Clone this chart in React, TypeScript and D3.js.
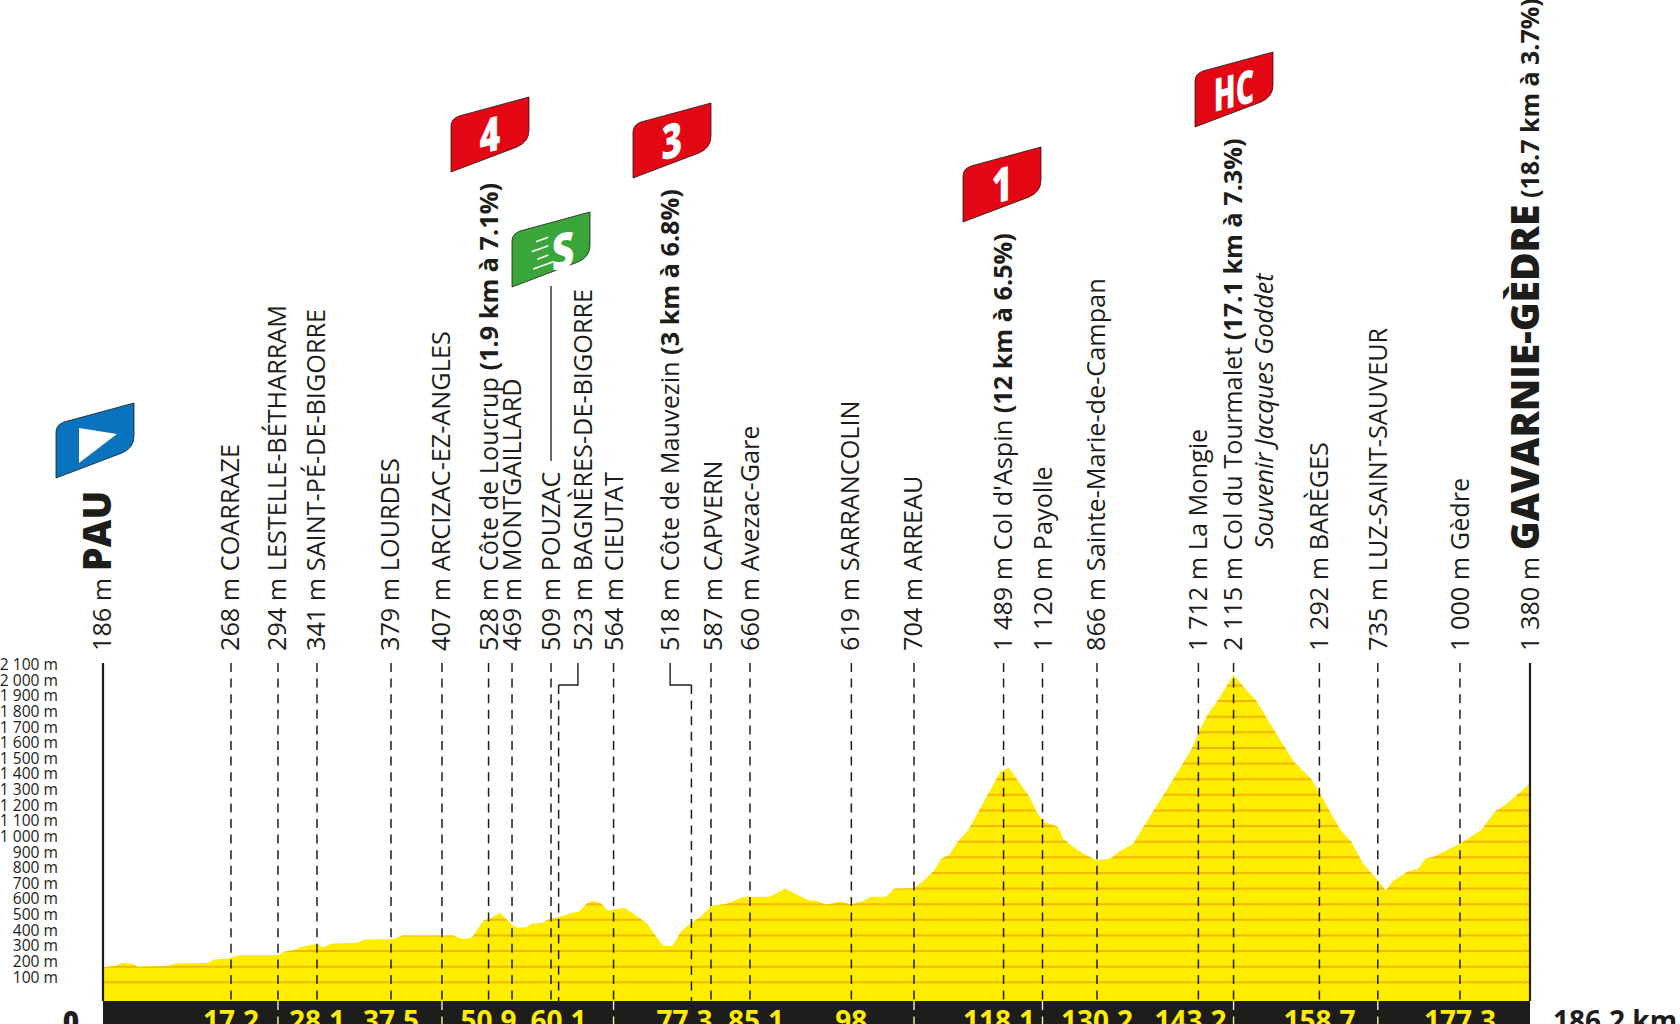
import React from 'react';
import * as d3 from 'd3';

const PROFILE_KM = [0,1.5,2.6,3.8,4.5,8.5,9.4,13.6,14.5,16.4,17.8,22.9,23.6,25,25.7,27.8,28.7,29.9,33.2,34.1,38,39,45.7,46.9,48.1,49.7,50.3,51.8,53.4,54.1,55.3,55.8,57.4,57.9,59.4,61.2,62.1,63.1,64,65,65.9,66.6,68,69.2,71,71.9,73.1,74.3,75.4,76.6,78,79.4,81.3,83.6,86.9,89,92,93.1,94.3,95.2,96.2,97.6,99.2,100.3,102.2,103.2,105.8,106.9,108.3,109.4,110.4,111.5,112.9,114.1,115.3,117.1,118.2,119.2,120.9,121.8,122.7,124.6,125.3,126.9,128.3,129.7,131.5,132.5,134.4,135.9,137.1,138.5,139.7,140.9,142.2,142.9,144.1,145.5,147.5,149.2,150.6,152.8,155.4,157.6,158.7,160,161.5,162.9,164.4,166.3,167.4,168.2,170.2,171.6,172.6,173.6,177.1,179.8,181.7,183.2,186.2];
const PROFILE_M = [196,204,226,220,200,204,221,226,247,253,275,275,296,307,324,345,324,349,354,375,377,400,400,377,386,499,503,546,467,450,452,473,482,499,516,546,552,605,622,605,558,567,578,541,477,413,332,332,424,477,520,590,601,648,648,699,627,620,599,605,618,599,622,648,648,699,703,744,808,893,914,1000,1074,1181,1288,1447,1473,1405,1288,1192,1128,1096,1017,957,914,882,893,936,985,1106,1202,1309,1405,1501,1608,1693,1810,1906,2066,1970,1895,1714,1511,1405,1319,1202,1074,1000,861,755,686,744,808,829,893,904,989,1074,1196,1245,1373];

const ELEV_TICKS = d3.range(100, 2101, 100);
const ELEV_LABELS = ['100 m','200 m','300 m','400 m','500 m','600 m','700 m','800 m','900 m','1 000 m','1 100 m','1 200 m','1 300 m','1 400 m','1 500 m','1 600 m','1 700 m','1 800 m','1 900 m','2 000 m','2 100 m'];

const STOP_KM = [16.7,22.83,27.92,37.58,44.23,50.31,53.37,58.46,59.45,66.62,76.78,79.33,84.42,97.65,105.82,117.51,122.59,129.7,142.93,147.52,158.72,166.34,177.06];
const BAND_TICK_KM = [22.83,44.23,66.62,105.82,122.59,147.52,166.34];
const KM_LABELS = ['17.2','28.1','37.5','50.9','60.1','77.3','85.1','98','118.1','130.2','143.2','158.7','177.3'];
const KM_LABEL_POS = [16.7,27.92,37.58,50.31,59.45,75.89,85.2,97.65,116.9,129.7,141.9,158.72,177.06];

const PLACES_ALT = ['268 m','294 m','341 m','379 m','407 m','528 m','469 m','509 m','523 m','564 m','518 m','587 m','660 m','619 m','704 m','1 489 m','1 120 m','866 m','1 712 m','2 115 m','1 292 m','735 m','1 000 m'];
const PLACES_NAME = ['COARRAZE','LESTELLE-BÉTHARRAM','SAINT-PÉ-DE-BIGORRE','LOURDES','ARCIZAC-EZ-ANGLES','Côte de Loucrup','MONTGAILLARD','POUZAC','BAGNÈRES-DE-BIGORRE','CIEUTAT','Côte de Mauvezin','CAPVERN','Avezac-Gare','SARRANCOLIN','ARREAU',"Col d'Aspin",'Payolle','Sainte-Marie-de-Campan','La Mongie','Col du Tourmalet','BARÈGES','LUZ-SAINT-SAUVEUR','Gèdre'];
const PLACES_CLIMB = ['','','','','','(1.9 km à 7.1%)','','','','','(3 km à 6.8%)','','','','','(12 km à 6.5%)','','','','(17.1 km à 7.3%)','','',''];
const PLACES_KM = [16.6,22.7,27.75,37.45,44.13,50.31,53.37,58.4,62.65,66.62,74.0,79.6,84.42,97.5,105.7,117.4,122.59,129.6,142.93,147.4,158.72,166.34,177.06];

const FLAG_KINDS = ['start','4','sprint','3','1','HC'];
const FLAG_X = [56,451,512,633,963,1195];
const FLAG_Y = [478,172,287,178,222,127];

const INK = '#1d1d1b';
const FONT = '"Open Sans", sans-serif';
const x = d3.scaleLinear().domain([0, 186.2]).range([103, 1530]);
const y = d3.scaleLinear().domain([0, 2100]).range([998, 669.8]);
const BAND_TOP = 1001;
const LINE_TOP = 663;
const LABEL_Y = 651;

const profile = PROFILE_KM.map((k, i) => [k, PROFILE_M[i]] as [number, number]);
const areaPath = d3.area<[number, number]>().x(d => x(d[0])).y0(BAND_TOP).y1(d => y(d[1]))(profile)!;

const FLAG_D = 'M0,0 L0,-46 Q0,-53 8,-56 L78,-75 L78,-42 Q78,-30 66,-25 Z';
const SPEED_LINES = [[19.7, -35.3, 36.3, -41.3], [24, -45.3, 36.3, -49.7], [25.3, -27.7, 36.3, -32], [21.3, -18, 41.3, -25.3]];

function Flag({ kind, px, py }: { kind: string; px: number; py: number }) {
  const fill = kind === 'start' ? '#0a73bd' : kind === 'sprint' ? '#3aa63a' : '#e30613';
  return (
    <g transform={`translate(${px},${py})`}>
      <path d={FLAG_D} fill={fill} stroke={INK} strokeWidth={0.8} />
      {kind === 'start' && <path d="M23,-50 L61,-44 L23,-15 Z" fill="#fff" />}
      {kind !== 'start' && kind !== 'sprint' && (
        <text transform={`translate(39,-20) skewY(-14) scale(${kind === 'HC' ? 0.62 : 0.74},1)`} textAnchor="middle" fontFamily={FONT} fontWeight={800} fontSize={kind === 'HC' ? 46 : 48} fill="#fff">{kind}</text>
      )}
      {kind === 'sprint' && (
        <g>
          <text transform="translate(51,-18) skewY(-14) scale(0.78,1)" textAnchor="middle" fontFamily={FONT} fontWeight={800} fontSize={50} fill="#fff">S</text>
          {SPEED_LINES.map((s, i) => (
            <line key={i} x1={s[0]} y1={s[1]} x2={s[2]} y2={s[3]} stroke="#fff" strokeWidth={1.7} />
          ))}
        </g>
      )}
    </g>
  );
}

function Vert({ tx, children }: { tx: number; children: React.ReactNode }) {
  return (
    <text transform={`translate(${tx},${LABEL_Y}) rotate(-90)`} dy="0.36em" fontFamily={FONT} fontSize={25.25} fill={INK} xmlSpace="preserve">{children}</text>
  );
}

export default function App() {
  return (
    <svg width={1680} height={1024} viewBox="0 0 1680 1024" style={{ position: 'absolute', left: 0, top: 0, display: 'block', background: '#fff' }}>
      <defs>
        <clipPath id="prof"><path d={areaPath} /></clipPath>
      </defs>
      <path d={areaPath} fill="#ffed00" />
      <g clipPath="url(#prof)">
        {ELEV_TICKS.map(m => (
          <line key={m} x1={103} x2={1530} y1={y(m)} y2={y(m)} stroke="#f2b700" strokeWidth={2} />
        ))}
      </g>
      {ELEV_TICKS.map((m, i) => (
        <text key={m} x={58} y={y(m) - 5.4} dy="0.36em" textAnchor="end" fontFamily={FONT} fontSize={15.6} fill={INK}>{ELEV_LABELS[i]}</text>
      ))}

      {STOP_KM.map(k => (
        <line key={k} x1={x(k)} x2={x(k)} y1={k === 59.45 || k === 76.78 ? 685 : LINE_TOP} y2={BAND_TOP} stroke={INK} strokeWidth={1.5} strokeDasharray="9 6.6" />
      ))}
      <line x1={x(0)} x2={x(0)} y1={LINE_TOP} y2={BAND_TOP} stroke={INK} strokeWidth={2.2} />
      <line x1={x(186.2)} x2={x(186.2)} y1={LINE_TOP} y2={BAND_TOP} stroke={INK} strokeWidth={2.2} />
      <path d={`M${x(61.97)},${LINE_TOP} V685 H${x(59.45)}`} fill="none" stroke={INK} strokeWidth={1.4} />
      <path d={`M${x(74.0)},${LINE_TOP} V685 H${x(76.78)}`} fill="none" stroke={INK} strokeWidth={1.4} />
      <line x1={x(53.37) + 39} x2={x(53.37) + 39} y1={286} y2={461} stroke={INK} strokeWidth={1.3} />

      <rect x={103} y={BAND_TOP} width={1427} height={30} fill={INK} />
      {BAND_TICK_KM.map(k => (
        <line key={k} x1={x(k)} x2={x(k)} y1={BAND_TOP} y2={1024} stroke="#f5f0b0" strokeWidth={1.4} strokeDasharray="9 6.6" />
      ))}
      {KM_LABELS.map((l, i) => (
        <text key={l} x={x(KM_LABEL_POS[i])} y={1031} textAnchor="middle" fontFamily={FONT} fontWeight={700} fontSize={28} fill="#ffed00">{l}</text>
      ))}
      <text x={71} y={1031} textAnchor="middle" fontFamily={FONT} fontWeight={800} fontSize={28} fill={INK}>0</text>
      <text x={1553} y={1031} fontFamily={FONT} fontWeight={700} fontSize={28} fill={INK}>186.2 km</text>

      {PLACES_NAME.map((n, i) => (
        <Vert key={n} tx={x(PLACES_KM[i])}>
          {PLACES_ALT[i]} {n}
          {PLACES_CLIMB[i] && <tspan fontWeight={700}> {PLACES_CLIMB[i]}</tspan>}
        </Vert>
      ))}
      <Vert tx={102}>186 m <tspan fontWeight={800} fontSize={38}>PAU</tspan></Vert>
      <Vert tx={1530}>1 380 m <tspan fontWeight={800} fontSize={39}>GAVARNIE-GÈDRE</tspan> <tspan fontWeight={700} fontSize={25}>(18.7 km à 3.7%)</tspan></Vert>
      <text transform={`translate(${x(147.4) + 31},549) rotate(-90)`} dy="0.36em" fontFamily={FONT} fontStyle="italic" fontSize={25.2} fill={INK}>Souvenir Jacques Goddet</text>

      {FLAG_KINDS.map((k, i) => (
        <Flag key={k} kind={k} px={FLAG_X[i]} py={FLAG_Y[i]} />
      ))}
    </svg>
  );
}
